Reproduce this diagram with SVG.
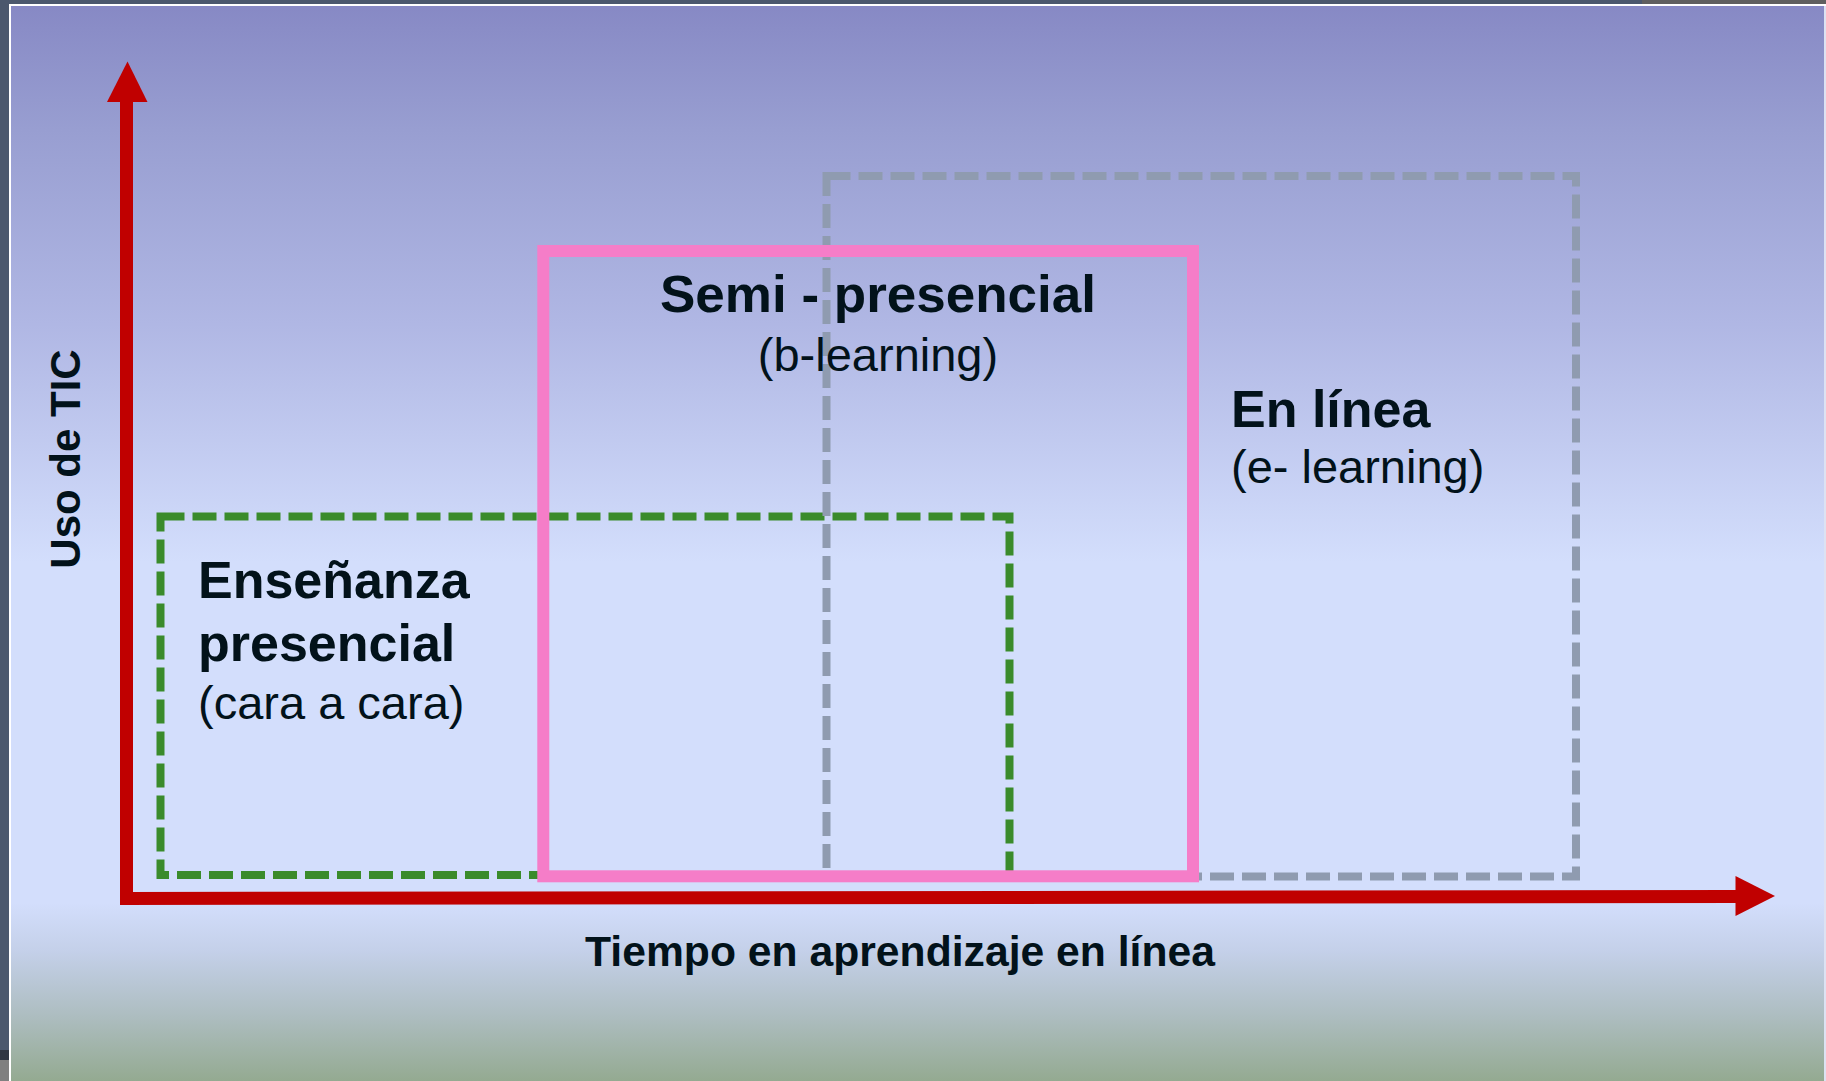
<svg xmlns="http://www.w3.org/2000/svg" width="1826" height="1081" viewBox="0 0 1826 1081">
  <defs>
    <linearGradient id="bg" x1="0" y1="0" x2="0" y2="1081" gradientUnits="userSpaceOnUse">
      <stop offset="0" stop-color="#8688c4"/>
      <stop offset="0.12" stop-color="#989ed1"/>
      <stop offset="0.3" stop-color="#b0b7e4"/>
      <stop offset="0.52" stop-color="#d3defc"/>
      <stop offset="0.835" stop-color="#d3defc"/>
      <stop offset="0.88" stop-color="#c4d0e9"/>
      <stop offset="0.94" stop-color="#adbdc0"/>
      <stop offset="1" stop-color="#94aa91"/>
    </linearGradient>
    <style>
      .bold { font-family: "Liberation Sans", Arial, sans-serif; font-weight: bold; fill: #02121a; }
      .reg { font-family: "Liberation Sans", Arial, sans-serif; fill: #02121a; }
      .dashGreen { fill: none; stroke: #3a8b2b; stroke-width: 8; stroke-dasharray: 24 8; }
      .dashGray { fill: none; stroke: #8f9bb0; stroke-width: 8; stroke-dasharray: 24 8; }
      .pink { fill: none; stroke: #f57dc8; stroke-width: 12; }
      .axis { fill: none; stroke: #c00000; stroke-width: 13; stroke-linejoin: miter; }
      .head { fill: #c00000; }
    </style>
  </defs>

  <!-- frame -->
  <rect x="0" y="0" width="1826" height="1081" fill="#4b586d"/>
  <rect x="1642" y="0" width="184" height="5" fill="#5f5f5f"/>
  <rect x="0" y="1050" width="10" height="10" fill="#2f3642"/>
  <rect x="0" y="1060" width="10" height="21" fill="#808080"/>
  <rect x="9" y="4" width="1817" height="1077" fill="#ffffff"/>
  <rect x="11" y="6" width="1813" height="1075" fill="url(#bg)"/>
  <rect x="1824" y="6" width="2" height="1075" fill="#dde2f2"/>

  <!-- nodes -->
  <g id="presencial">
    <rect class="dashGreen" x="160.5" y="516.5" width="849" height="358.5"/>
  </g>
  <g id="en-linea">
    <rect class="dashGray" x="826.5" y="176" width="749.5" height="700.5"/>
  </g>
  <g id="semi-presencial">
    <rect class="pink" x="543.3" y="251" width="649.7" height="625.3"/>
  </g>

  <g id="label-presencial">
    <text class="bold" x="198" y="598" font-size="52">Enseñanza</text>
    <text class="bold" x="198" y="661" font-size="52">presencial</text>
    <text class="reg" x="198" y="719" font-size="47">(cara a cara)</text>
  </g>
  <g id="label-semi">
    <text class="bold" x="878" y="312" font-size="52" text-anchor="middle" textLength="436" lengthAdjust="spacingAndGlyphs">Semi - presencial</text>
    <text class="reg" x="878" y="371" font-size="47" text-anchor="middle">(b-learning)</text>
  </g>
  <g id="label-linea">
    <text class="bold" x="1231" y="427" font-size="52">En línea</text>
    <text class="reg" x="1231" y="483" font-size="47">(e- learning)</text>
  </g>

  <!-- connectors (axes) -->
  <g id="axes">
    <path class="axis" d="M126.5,100 L126.5,898.5 L1738,896.5"/>
    <polygon class="head" points="127.5,61.5 107,102 147.5,102"/>
    <polygon class="head" points="1735.5,876 1775,896 1735.5,916"/>
  </g>

  <g id="axis-labels">
    <text class="bold" x="900" y="966" font-size="42" text-anchor="middle" textLength="630" lengthAdjust="spacingAndGlyphs">Tiempo en aprendizaje en línea</text>
    <text class="bold" font-size="42" text-anchor="middle" transform="translate(80,459) rotate(-90)">Uso de TIC</text>
  </g>
</svg>
